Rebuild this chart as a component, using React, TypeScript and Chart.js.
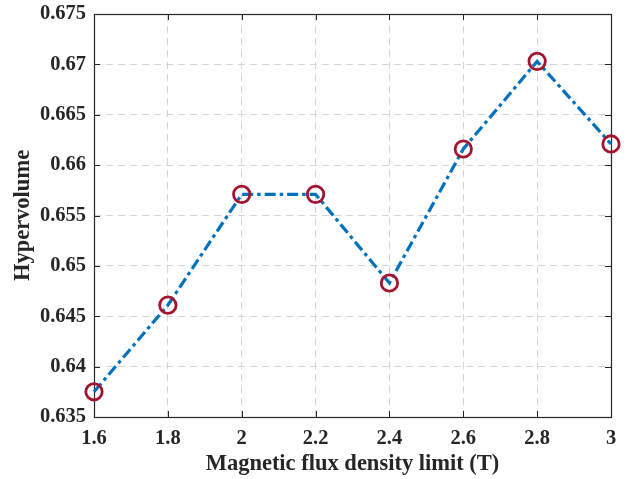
import React, { useEffect, useRef } from "react";
import { Chart, registerables } from "chart.js";

Chart.register(...registerables);

const xValues = [1.6, 1.8, 2.0, 2.2, 2.4, 2.6, 2.8, 3.0];
const hypervolume = [0.6375, 0.6461, 0.6571, 0.6571, 0.6483, 0.6616, 0.6703, 0.6621];
const xTicks = [1.6, 1.8, 2.0, 2.2, 2.4, 2.6, 2.8, 3.0];
const xTickLabels = ["1.6", "1.8", "2", "2.2", "2.4", "2.6", "2.8", "3"];
const yTicks = [0.635, 0.64, 0.645, 0.65, 0.655, 0.66, 0.665, 0.67, 0.675];
const yTickLabels = ["0.635", "0.64", "0.645", "0.65", "0.655", "0.66", "0.665", "0.67", "0.675"];

const FONT = "'Liberation Serif', 'Times New Roman', serif";
const TEXT = "#262626";
const AXIS = "#262626";

const framePlugin = {
  id: "frame",
  beforeDatasetsDraw(chart: any) {
    const { ctx, chartArea } = chart;
    const { left, right, top, bottom } = chartArea;
    const xs = chart.scales.x;
    const ys = chart.scales.y;
    const tl = 6;
    ctx.save();
    ctx.strokeStyle = AXIS;
    ctx.lineWidth = 1;
    ctx.setLineDash([]);
    ctx.beginPath();
    xTicks.forEach((v) => {
      const px = Math.round(xs.getPixelForValue(v)) + 0.5;
      ctx.moveTo(px, bottom);
      ctx.lineTo(px, bottom - tl);
      ctx.moveTo(px, top);
      ctx.lineTo(px, top + tl);
    });
    yTicks.forEach((v) => {
      const py = Math.round(ys.getPixelForValue(v)) + 0.5;
      ctx.moveTo(left, py);
      ctx.lineTo(left + tl, py);
      ctx.moveTo(right, py);
      ctx.lineTo(right - tl, py);
    });
    ctx.stroke();
    ctx.lineWidth = 1.2;
    ctx.strokeRect(Math.round(left) + 0.5, Math.round(top) + 0.5, Math.round(right - left), Math.round(bottom - top));
    ctx.restore();
  },
};

export default function App() {
  const ref = useRef<HTMLCanvasElement | null>(null);
  useEffect(() => {
    if (!ref.current) return;
    const chart = new Chart(ref.current, {
      type: "line",
      data: {
        datasets: [
          {
            data: xValues.map((x, i) => ({ x, y: hypervolume[i] })),
            borderColor: "#0072BD",
            borderWidth: 3.2,
            borderDash: [11, 4, 3.5, 4],
            pointRadius: 8.2,
            pointBorderWidth: 2.8,
            pointBorderColor: "#A2142F",
            pointBackgroundColor: "rgba(0,0,0,0)",
            pointStyle: "circle",
            tension: 0,
            fill: false,
            clip: false as any,
          },
        ],
      },
      options: {
        animation: false,
        responsive: true,
        maintainAspectRatio: false,
        events: [],
        layout: { padding: { left: 0, right: 16, top: 14, bottom: 0 } },
        plugins: {
          legend: { display: false },
          tooltip: { enabled: false },
        },
        scales: {
          x: {
            type: "linear",
            min: 1.6,
            max: 3.0,
            afterBuildTicks: (s: any) => {
              s.ticks = xTicks.map((v) => ({ value: v }));
            },
            afterFit: (s: any) => {
              s.height = 62;
              s.paddingLeft = 0;
              s.paddingRight = 0;
            },
            ticks: {
              autoSkip: false,
              maxRotation: 0,
              padding: 9,
              color: TEXT,
              font: { family: FONT, size: 20.5, weight: "bold" },
              callback: (_v: any, i: number) => xTickLabels[i],
            },
            grid: {
              display: true,
              drawTicks: false,
              color: "#d4d4d4",
              lineWidth: 1,
            },
            border: { display: false, dash: [7, 5] },
            title: {
              display: true,
              text: "Magnetic flux density limit (T)",
              color: TEXT,
              font: { family: FONT, size: 22.5, weight: "bold" },
              padding: { top: 1, bottom: 1 },
            },
          },
          y: {
            type: "linear",
            min: 0.635,
            max: 0.675,
            afterBuildTicks: (s: any) => {
              s.ticks = yTicks.map((v) => ({ value: v }));
            },
            afterFit: (s: any) => {
              s.width = 94;
              s.paddingTop = 0;
              s.paddingBottom = 0;
            },
            ticks: {
              autoSkip: false,
              padding: 8,
              color: TEXT,
              font: { family: FONT, size: 20.5, weight: "bold" },
              callback: (_v: any, i: number) => yTickLabels[i],
            },
            grid: {
              display: true,
              drawTicks: false,
              color: "#d4d4d4",
              lineWidth: 1,
            },
            border: { display: false, dash: [7, 5] },
            title: {
              display: true,
              text: "Hypervolume",
              color: TEXT,
              font: { family: FONT, size: 22.5, weight: "bold" },
              padding: { top: 10, bottom: 10 },
            },
          },
        },
      } as any,
      plugins: [framePlugin],
    });
    return () => chart.destroy();
  }, []);
  return (
    <div style={{ position: "fixed", left: 0, top: 0, width: 627, height: 479, background: "#fff" }}>
      <canvas ref={ref} />
    </div>
  );
}
